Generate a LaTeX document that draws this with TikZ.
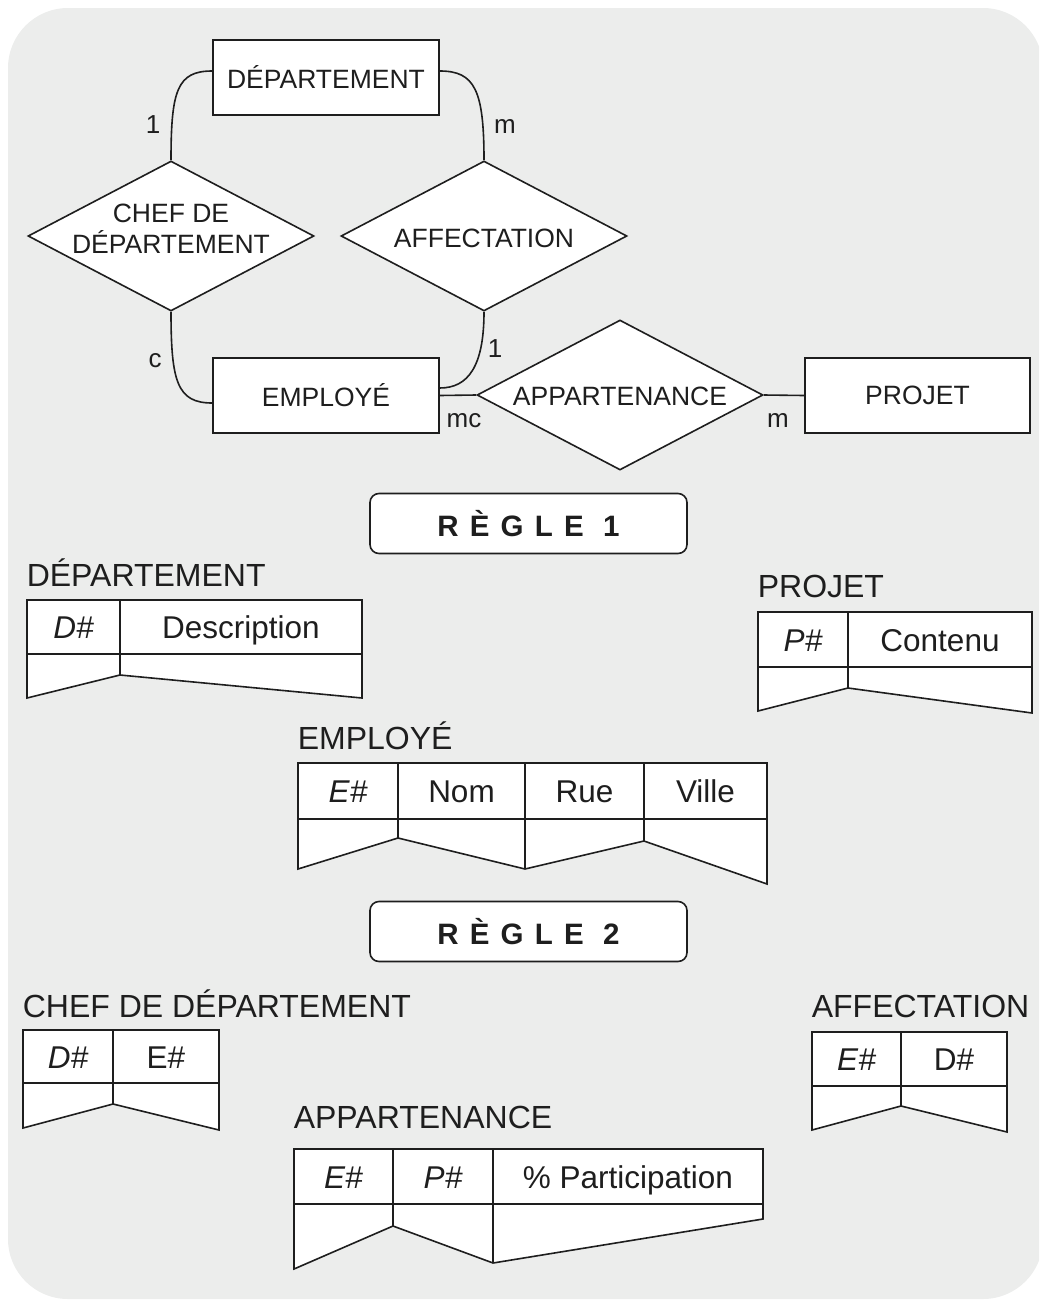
\documentclass[tikz,border=0pt]{standalone}
\usepackage{fontspec}
\setmainfont{Liberation Sans}
\usetikzlibrary{shapes.geometric}
\definecolor{bg}{HTML}{ECEDEC}
\definecolor{ink}{HTML}{1E1E1E}
\begin{document}
\begin{tikzpicture}[x=1pt,y=-1pt,line width=1.6pt,draw=ink,text=ink,
  entity/.style={draw, fill=white, minimum width=226pt, minimum height=75pt, inner sep=0pt, font=\fontsize{26.5}{30}\selectfont},
  rel/.style={draw, fill=white, diamond, minimum width=286pt, minimum height=150pt, inner sep=0pt},
  reltext/.style={font=\fontsize{26.5}{31}\selectfont, align=center, inner sep=0pt},
  card/.style={font=\fontsize{26}{30}\selectfont, inner sep=0pt, anchor=base},
  rulebox/.style={draw, fill=white, rounded corners=9pt, minimum width=317pt, minimum height=60pt, inner sep=0pt,
     font=\fontsize{29.5}{34}\selectfont\bfseries\addfontfeature{LetterSpace=38}},
  ttitle/.style={font=\fontsize{32}{36}\selectfont, anchor=base west, inner sep=0pt},
  cell/.style={font=\fontsize{31.5}{36}\selectfont, inner sep=0pt, anchor=base},
  tbl/.style={draw, fill=white, line join=miter},
  conn/.style={draw, line width=1.6pt}
]
\useasboundingbox (0,0) rectangle (1039,1301);
\clip (0,0) rectangle (1039,1301);
\fill[bg, rounded corners=60pt] (8,8) rectangle (1043,1299);

% ---------- ER diagram ----------
\node[entity] (dept) at (326,77.5) {DÉPARTEMENT};
\node[entity] (emp) at (326,395.5) {EMPLOYÉ};
\node[entity, minimum width=225pt] (proj) at (917.5,395.5) {PROJET};

\node[rel] (chef) at (171,236) {};
\node[reltext] (chefT) at (171,229) {CHEF DE\\DÉPARTEMENT};
\node[rel] (aff) at (484,236) {};
\node[reltext] (affT) at (484,238) {AFFECTATION};
\node[rel] (app) at (620,395) {};
\node[reltext] (appT) at (620,396) {APPARTENANCE};

\draw[conn] ([yshift=6.5pt]dept.west) .. controls +(-35,0) and +(0,-70) .. (chef.north);
\draw[conn] ([yshift=6.5pt]dept.east) .. controls +(35,0) and +(0,-70) .. (aff.north);
\draw[conn] (chef.south) .. controls +(0,70) and +(-35,0) .. ([yshift=-7.5pt]emp.west);
\draw[conn] (aff.south) .. controls +(0,55) and +(28,0) .. ([yshift=7.5pt]emp.east);
\draw[conn] (emp.east) -- (app.west);
\draw[conn] (app.east) -- (proj.west);

\node[card] (c1) at (153,133) {1};
\node[card] (c2) at (505,133) {m};
\node[card] (c3) at (155,367) {c};
\node[card] (c4) at (495,357) {1};
\node[card] (c5) at (464,427) {mc};
\node[card] (c6) at (778,427) {m};

% ---------- Rules ----------
\node[rulebox] (r1) at (528.5,523.5) {RÈGLE 1};
\node[rulebox] (r2) at (528.5,931.5) {RÈGLE 2};

% ---------- Table DÉPARTEMENT ----------
\node[ttitle] (tdept) at (26,586) {DÉPARTEMENT};
\filldraw[tbl] (27,600) -- (362,600) -- (362,698) -- (120,675) -- (27,698) -- cycle;
\draw (27,654) -- (362,654) (120,600) -- (120,675);
\node[cell] (tdept1) at (73.5,638.5) {\itshape D\#};
\node[cell] (tdept2) at (241,638.5) {Description};

% ---------- Table PROJET ----------
\node[ttitle] (tproj) at (757,597) {PROJET};
\filldraw[tbl] (758,612) -- (1032,612) -- (1032,713) -- (848,688) -- (758,711) -- cycle;
\draw (758,667) -- (1032,667) (848,612) -- (848,688);
\node[cell] (tproj1) at (803,651) {\itshape P\#};
\node[cell] (tproj2) at (940,651) {Contenu};

% ---------- Table EMPLOYÉ ----------
\node[ttitle] (temp) at (297,749) {EMPLOYÉ};
\filldraw[tbl] (298,763) -- (767,763) -- (767,884) -- (644,841) -- (525,869) -- (398,838) -- (298,869) -- cycle;
\draw (298,819) -- (767,819) (398,763) -- (398,838) (525,763) -- (525,869) (644,763) -- (644,841);
\node[cell] (temp1) at (348,802.5) {\itshape E\#};
\node[cell] (temp2) at (461.5,802.5) {Nom};
\node[cell] (temp3) at (584.5,802.5) {Rue};
\node[cell] (temp4) at (705.5,802.5) {Ville};

% ---------- Table CHEF DE DÉPARTEMENT ----------
\node[ttitle] (tchef) at (22,1017) {CHEF DE DÉPARTEMENT};
\filldraw[tbl] (23,1030) -- (219,1030) -- (219,1130) -- (113,1104) -- (23,1128) -- cycle;
\draw (23,1083) -- (219,1083) (113,1030) -- (113,1104);
\node[cell] (tchef1) at (68,1068) {\itshape D\#};
\node[cell] (tchef2) at (166,1068) {E\#};

% ---------- Table AFFECTATION ----------
\node[ttitle] (taff) at (811,1017) {AFFECTATION};
\filldraw[tbl] (812,1032) -- (1007,1032) -- (1007,1132) -- (901,1106) -- (812,1130) -- cycle;
\draw (812,1086) -- (1007,1086) (901,1032) -- (901,1106);
\node[cell] (taff1) at (856.5,1070.5) {\itshape E\#};
\node[cell] (taff2) at (954,1070.5) {D\#};

% ---------- Table APPARTENANCE ----------
\node[ttitle] (tapp) at (293,1128) {APPARTENANCE};
\filldraw[tbl] (294,1149) -- (763,1149) -- (763,1219) -- (493,1263) -- (393,1226) -- (294,1269) -- cycle;
\draw (294,1204) -- (763,1204) (393,1149) -- (393,1226) (493,1149) -- (493,1263);
\node[cell] (tapp1) at (343.5,1188) {\itshape E\#};
\node[cell] (tapp2) at (443,1188) {\itshape P\#};
\node[cell] (tapp3) at (628,1188) {\% Participation};
\end{tikzpicture}
\end{document}
